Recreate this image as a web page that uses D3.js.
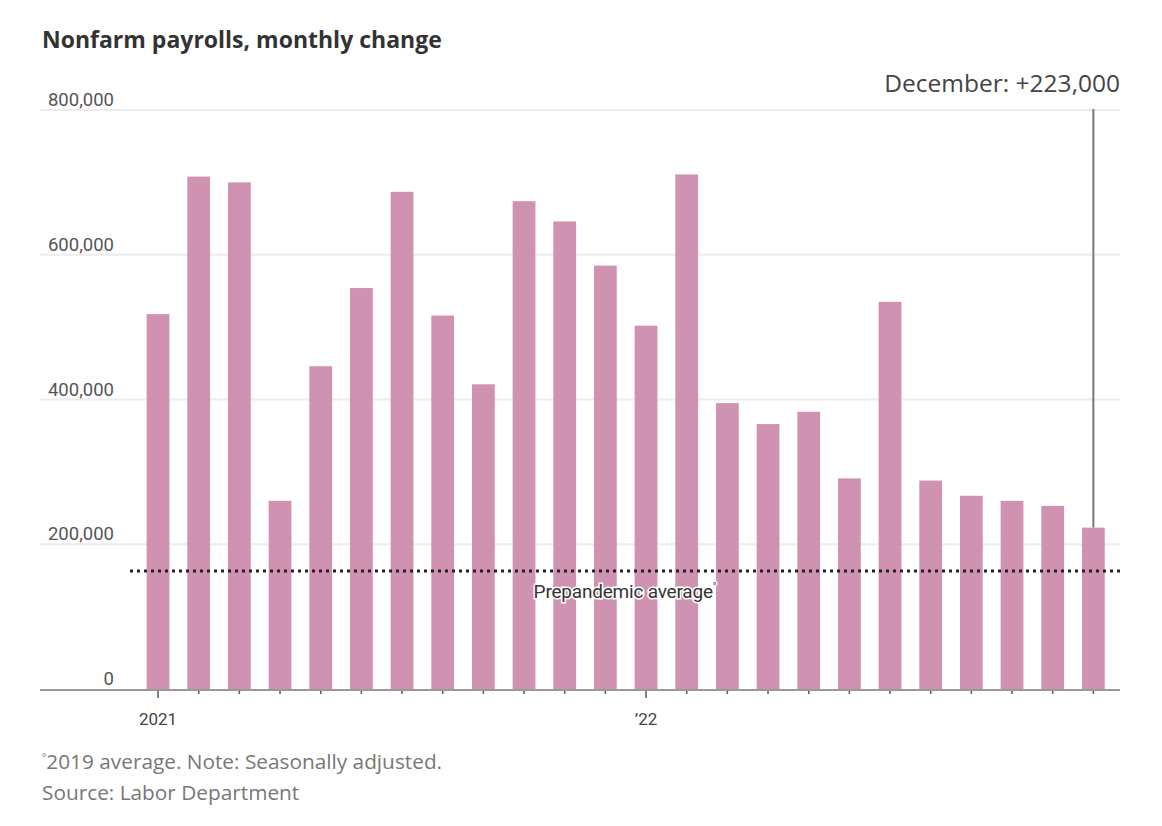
<!DOCTYPE html>
<html>
<head>
<meta charset="utf-8">
<script src="https://cdn.jsdelivr.net/npm/d3@7"></script>
<style>
  body { margin: 0; background: #fff; }
  svg { display: block; }
</style>
</head>
<body>
<div id="chart"></div>
<script>
// Monthly change in nonfarm payrolls, Jan 2021 - Dec 2022 (thousands)
const months = ['2021-01','2021-02','2021-03','2021-04','2021-05','2021-06',
                '2021-07','2021-08','2021-09','2021-10','2021-11','2021-12',
                '2022-01','2022-02','2022-03','2022-04','2022-05','2022-06',
                '2022-07','2022-08','2022-09','2022-10','2022-11','2022-12'];
const payrolls = [518, 708, 700, 260, 446, 554, 687, 516, 421, 674, 646, 585,
                  502, 711, 395, 366, 383, 291, 535, 288, 267, 260, 253, 223];
const yTicks = [0, 200, 400, 600, 800];
const yearLabels = { '2021-01': '2021', '2022-01': '\u201922' };
const prepandemicAvg = 163;

const width = 1162, height = 826;

const svg = d3.select('#chart').append('svg')
    .attr('width', width)
    .attr('height', height)
    .attr('font-family', 'Roboto, "Noto Sans", sans-serif');

const x = d3.scaleBand()
    .domain(months)
    .range([137.7, 1113.7])
    .paddingInner(0.44)
    .paddingOuter(0.22);

const y = d3.scaleLinear()
    .domain([0, 800])
    .range([689, 110]);

const left = 40, right = 1120;

// Title
svg.append('text')
    .attr('x', 42).attr('y', 48)
    .attr('font-family', '"Open Sans", sans-serif')
    .attr('font-weight', 'bold')
    .attr('font-size', 23)
    .attr('fill', '#333')
    .text('Nonfarm payrolls, monthly change');

// Gridlines
svg.append('g')
    .selectAll('line')
    .data(yTicks.filter(d => d > 0))
    .enter().append('line')
    .attr('x1', left).attr('x2', right)
    .attr('y1', d => y(d)).attr('y2', d => y(d))
    .attr('stroke', '#ececec')
    .attr('stroke-width', 2);

// Y labels
svg.append('g')
    .selectAll('text')
    .data(yTicks)
    .enter().append('text')
    .attr('x', 114)
    .attr('y', d => y(d) - 4)
    .attr('text-anchor', 'end')
    .attr('font-size', 18.5)
    .attr('fill', '#555')
    .text(d => d3.format(',')(d * 1000));

// Bars
svg.append('g')
    .selectAll('rect')
    .data(months)
    .enter().append('rect')
    .attr('x', d => x(d))
    .attr('width', x.bandwidth())
    .attr('y', (d, i) => y(payrolls[i]))
    .attr('height', (d, i) => y(0) - y(payrolls[i]))
    .attr('fill', '#cf93b1');

// Prepandemic average line
svg.append('line')
    .attr('x1', 130).attr('x2', right)
    .attr('y1', y(prepandemicAvg)).attr('y2', y(prepandemicAvg))
    .attr('stroke', '#222')
    .attr('stroke-width', 3)
    .attr('stroke-dasharray', '3,4');

const avgLabel = svg.append('text')
    .attr('x', (130 + right) / 2)
    .attr('y', y(prepandemicAvg) + 27)
    .attr('text-anchor', 'middle')
    .attr('font-size', 19)
    .attr('letter-spacing', -0.2)
    .attr('fill', '#333')
    .attr('stroke', '#fff')
    .attr('stroke-width', 3)
    .attr('paint-order', 'stroke');
avgLabel.append('tspan').text('Prepandemic average');
avgLabel.append('tspan').attr('font-size', 10).attr('dy', -8).text('\u00b0');

// X axis
const xAxis = svg.append('g')
    .attr('transform', `translate(0,${y(0)})`)
    .call(d3.axisBottom(x).tickSize(5).tickFormat(d => yearLabels[d] || ''));
xAxis.select('.domain').remove();
xAxis.selectAll('.tick line')
    .attr('stroke', '#555')
    .attr('stroke-width', 1.5)
    .attr('y2', d => yearLabels[d] ? 9 : 5);
xAxis.selectAll('.tick text')
    .attr('y', 36)
    .attr('dy', 0)
    .attr('font-size', 17)
    .attr('font-family', 'Roboto, sans-serif')
    .attr('fill', '#444');

svg.append('line')
    .attr('x1', left).attr('x2', right)
    .attr('y1', y(0) + 1).attr('y2', y(0) + 1)
    .attr('stroke', '#999')
    .attr('stroke-width', 2);

// December annotation
const last = months[months.length - 1];
const lastX = x(last) + x.bandwidth() / 2;
svg.append('line')
    .attr('x1', lastX).attr('x2', lastX)
    .attr('y1', y(800) - 1).attr('y2', y(payrolls[payrolls.length - 1]))
    .attr('stroke', '#777')
    .attr('stroke-width', 2);

svg.append('text')
    .attr('x', right).attr('y', 92)
    .attr('text-anchor', 'end')
    .attr('font-family', '"Open Sans", sans-serif')
    .attr('font-size', 24.5)
    .attr('fill', '#444')
    .text('December: +' + d3.format(',')(payrolls[payrolls.length - 1] * 1000));

// Footnotes
const notes = svg.append('g')
    .attr('font-family', '"Open Sans", sans-serif')
    .attr('font-size', 20.8)
    .attr('fill', '#777');
const n1 = notes.append('text').attr('x', 42).attr('y', 769);
n1.append('tspan').attr('font-size', 10).attr('dy', -8).text('\u00b0');
n1.append('tspan').attr('dy', 8).text('2019 average. Note: Seasonally adjusted.');
notes.append('text').attr('x', 42).attr('y', 800).text('Source: Labor Department');
</script>
</body>
</html>
